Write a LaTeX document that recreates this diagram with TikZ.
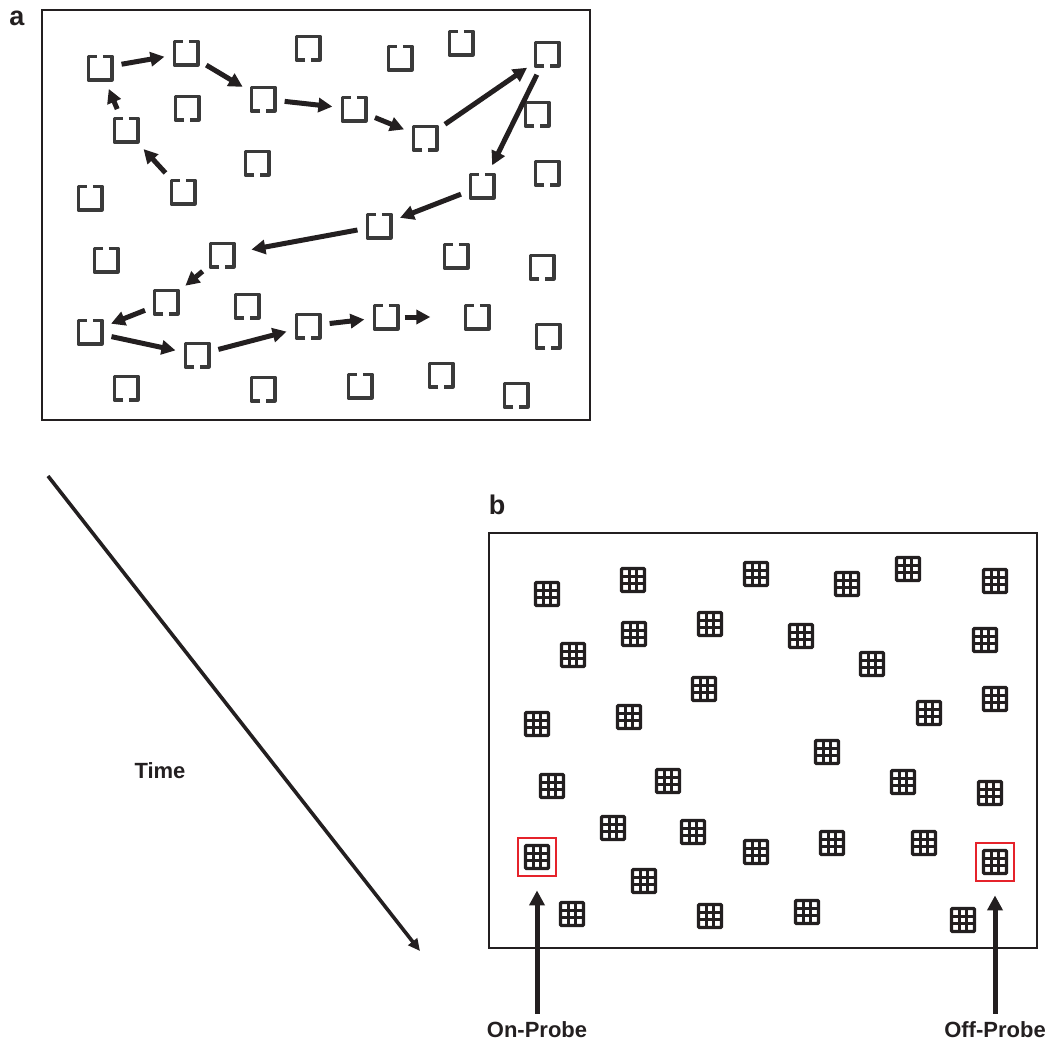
\documentclass[tikz,border=0pt]{standalone}
\usepackage{fontspec}
\setmainfont{Liberation Sans}
\usepackage{tikz}
\usetikzlibrary{arrows.meta, calc}
\definecolor{sqgray}{HTML}{3A3A3A}
\definecolor{inkblack}{HTML}{231F20}
\definecolor{probered}{HTML}{E5232B}

\begin{document}
\begin{tikzpicture}[x=1pt, y=-1pt,
  sqline/.style={draw=sqgray, line width=3.6pt, line join=round},
  sqnode/.style={inner sep=0pt, minimum size=23pt},
  gapT/.style={sqnode, append after command={\pgfextra{\draw[sqline]
    ([xshift=2.8pt]\tikzlastnode.north) -| (\tikzlastnode.south east) -| (\tikzlastnode.north west) -- ([xshift=-2.8pt]\tikzlastnode.north);}}},
  gapB/.style={sqnode, append after command={\pgfextra{\draw[sqline]
    ([xshift=-2.8pt]\tikzlastnode.south) -| (\tikzlastnode.north west) -| (\tikzlastnode.south east) -- ([xshift=2.8pt]\tikzlastnode.south);}}},
  trail/.style={draw=inkblack, line width=5pt, shorten <=10pt, shorten >=10pt,
    -{Triangle[length=14pt, width=14pt]}},
  gridicon/.style={draw=inkblack, line width=3.4pt, inner sep=0pt, minimum size=23pt,
    rounded corners=1pt, path picture={
      \foreach \k in {-1,1} {
        \draw[inkblack, line width=2.8pt] ([xshift=\k*3.85pt]path picture bounding box.north) -- ([xshift=\k*3.85pt]path picture bounding box.south);
        \draw[inkblack, line width=2.8pt] ([yshift=\k*3.85pt]path picture bounding box.west) -- ([yshift=\k*3.85pt]path picture bounding box.east);
      }}},
  probebox/.style={draw=probered, line width=2.8pt, inner sep=0pt, minimum size=38pt},
  probe/.style={draw=inkblack, line width=5pt, shorten <=6pt, shorten >=13pt,
    -{Triangle[length=15pt, width=15pt]}},
  lbl/.style={font=\bfseries\fontsize{22}{26}\selectfont, text=inkblack, inner sep=2pt},
  panel/.style={font=\bfseries\fontsize{27}{30}\selectfont, text=inkblack}]
\useasboundingbox (0,0) rectangle (1056,1044);

% panel a
\node[panel] (pa) at (17,18) {a};
\draw[inkblack, line width=2.6pt] (42,10) rectangle (590,420);
\node[gapT] (p1) at (183,192) {};
\node[gapT] (p2) at (126,130) {};
\node[gapT] (p3) at (100,68) {};
\node[gapT] (p4) at (186,53) {};
\node[gapB] (p5) at (263,99) {};
\node[gapT] (p6) at (354,109) {};
\node[gapB] (p7) at (425,138) {};
\node[gapB] (p8) at (547,54) {};
\node[gapT] (p9) at (482,186) {};
\node[gapT] (p10) at (379,226) {};
\node[gapB] (p11) at (222,255) {};
\node[gapB] (p12) at (166,302) {};
\node[gapT] (p13) at (90,332) {};
\node[gapB] (p14) at (197,355) {};
\node[gapB] (p15) at (308,326) {};
\node[gapT] (p16) at (386,317) {};
\node[gapT] (p17) at (477,317) {};
\node[gapT] (d1) at (90,198) {};
\node[gapT] (d2) at (400,58) {};
\node[gapT] (d3) at (461,43) {};
\node[gapT] (d4) at (106,260) {};
\node[gapT] (d5) at (456,256) {};
\node[gapT] (d6) at (360,386) {};
\node[gapB] (d7) at (308,48) {};
\node[gapB] (d8) at (187,108) {};
\node[gapB] (d9) at (257,163) {};
\node[gapB] (d10) at (537,114) {};
\node[gapB] (d11) at (547,173) {};
\node[gapB] (d12) at (247,306) {};
\node[gapB] (d13) at (126,388) {};
\node[gapB] (d14) at (263,389) {};
\node[gapB] (d15) at (542,267) {};
\node[gapB] (d16) at (548,336) {};
\node[gapB] (d17) at (441,375) {};
\node[gapB] (d18) at (516,395) {};
\draw[trail] (p1) -- (p2);
\draw[trail] (p2) -- (p3);
\draw[trail] (p3) -- (p4);
\draw[trail] (p4) -- (p5);
\draw[trail] (p5) -- (p6);
\draw[trail] (p6) -- (p7);
\draw[trail] (p7) -- (p8);
\draw[trail] (p8) -- (p9);
\draw[trail] (p9) -- (p10);
\draw[trail, shorten >=18pt] (p10) -- (p11);
\draw[trail] (p11) -- (p12);
\draw[trail] (p12) -- (p13);
\draw[trail] (p13) -- (p14);
\draw[trail] (p14) -- (p15);
\draw[trail] (p15) -- (p16);
\draw[trail, shorten <=7pt, shorten >=35pt] (p16) -- (p17);

% time axis
\coordinate (tstart) at (48,476);
\coordinate (tend) at (420,951);
\draw[inkblack, line width=3.6pt, -{Triangle[length=12pt, width=11pt]}] (tstart) -- (tend);
\node[lbl] (time) at (160,771) {Time};

% panel b
\node[panel] (pb) at (497,505) {b};
\draw[inkblack, line width=2.6pt] (489,533) rectangle (1037,948);
\node[gridicon] (g1) at (547,594) {};
\node[gridicon] (g2) at (633,580) {};
\node[gridicon] (g3) at (756,574) {};
\node[gridicon] (g4) at (847,584) {};
\node[gridicon] (g5) at (908,569) {};
\node[gridicon] (g6) at (995,581) {};
\node[gridicon] (g7) at (573,655) {};
\node[gridicon] (g8) at (634,634) {};
\node[gridicon] (g9) at (710,624) {};
\node[gridicon] (g10) at (801,636) {};
\node[gridicon] (g11) at (872,664) {};
\node[gridicon] (g12) at (985,640) {};
\node[gridicon] (g13) at (704,689) {};
\node[gridicon] (g14) at (537,724) {};
\node[gridicon] (g15) at (629,717) {};
\node[gridicon] (g16) at (929,713) {};
\node[gridicon] (g17) at (995,699) {};
\node[gridicon] (g18) at (827,752) {};
\node[gridicon] (g19) at (552,786) {};
\node[gridicon] (g20) at (668,781) {};
\node[gridicon] (g21) at (903,782) {};
\node[gridicon] (g22) at (990,793) {};
\node[gridicon] (g23) at (613,828) {};
\node[gridicon] (g24) at (693,832) {};
\node[gridicon] (g25) at (832,843) {};
\node[gridicon] (g26) at (924,843) {};
\node[gridicon] (g27) at (756,852) {};
\node[gridicon] (g28) at (537,857) {};
\node[gridicon] (g29) at (995,862) {};
\node[gridicon] (g30) at (644,881) {};
\node[gridicon] (g31) at (572,914) {};
\node[gridicon] (g32) at (710,916) {};
\node[gridicon] (g33) at (807,912) {};
\node[gridicon] (g34) at (963,920) {};
\node[probebox] (onbox) at (g28) {};
\node[probebox] (offbox) at (g29) {};
\node[lbl] (onlbl) at (537,1030) {On-Probe};
\node[lbl] (offlbl) at (995,1030) {Off-Probe};
\draw[probe] (onlbl) -- (onbox);
\draw[probe] (offlbl) -- (offbox);
\end{tikzpicture}
\end{document}
